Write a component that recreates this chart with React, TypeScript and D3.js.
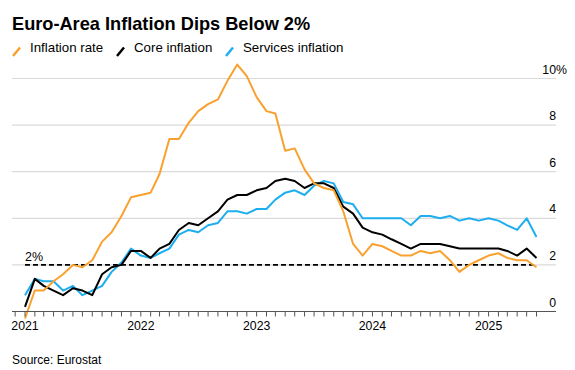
import React from "react";
import * as d3 from "d3";

// monthly readings, Dec 2020 .. May 2025 (plotted at month end)
const months: string[] = [
  "2020-12",
  "2021-01", "2021-02", "2021-03", "2021-04", "2021-05", "2021-06",
  "2021-07", "2021-08", "2021-09", "2021-10", "2021-11", "2021-12",
  "2022-01", "2022-02", "2022-03", "2022-04", "2022-05", "2022-06",
  "2022-07", "2022-08", "2022-09", "2022-10", "2022-11", "2022-12",
  "2023-01", "2023-02", "2023-03", "2023-04", "2023-05", "2023-06",
  "2023-07", "2023-08", "2023-09", "2023-10", "2023-11", "2023-12",
  "2024-01", "2024-02", "2024-03", "2024-04", "2024-05", "2024-06",
  "2024-07", "2024-08", "2024-09", "2024-10", "2024-11", "2024-12",
  "2025-01", "2025-02", "2025-03", "2025-04", "2025-05",
];

const inflationRate: number[] = [
  -0.3,
  0.9, 0.9, 1.3, 1.6, 2.0, 1.9, 2.2, 3.0, 3.4, 4.1, 4.9, 5.0,
  5.1, 5.9, 7.4, 7.4, 8.1, 8.6, 8.9, 9.1, 9.9, 10.6, 10.1, 9.2,
  8.6, 8.5, 6.9, 7.0, 6.1, 5.5, 5.3, 5.2, 4.3, 2.9, 2.4, 2.9,
  2.8, 2.6, 2.4, 2.4, 2.6, 2.5, 2.6, 2.2, 1.7, 2.0, 2.2, 2.4,
  2.5, 2.3, 2.2, 2.2, 1.9,
];

const coreInflation: number[] = [
  0.2,
  1.4, 1.1, 0.9, 0.7, 1.0, 0.9, 0.7, 1.6, 1.9, 2.0, 2.6, 2.6,
  2.3, 2.7, 2.9, 3.5, 3.8, 3.7, 4.0, 4.3, 4.8, 5.0, 5.0, 5.2,
  5.3, 5.6, 5.7, 5.6, 5.3, 5.5, 5.5, 5.3, 4.5, 4.2, 3.6, 3.4,
  3.3, 3.1, 2.9, 2.7, 2.9, 2.9, 2.9, 2.8, 2.7, 2.7, 2.7, 2.7,
  2.7, 2.6, 2.4, 2.7, 2.3,
];

const servicesInflation: number[] = [
  0.7,
  1.4, 1.3, 1.3, 0.9, 1.1, 0.7, 0.9, 1.1, 1.7, 2.1, 2.7, 2.4,
  2.3, 2.5, 2.7, 3.3, 3.5, 3.4, 3.7, 3.8, 4.3, 4.3, 4.2, 4.4,
  4.4, 4.8, 5.1, 5.2, 5.0, 5.4, 5.6, 5.5, 4.7, 4.6, 4.0, 4.0,
  4.0, 4.0, 4.0, 3.7, 4.1, 4.1, 4.0, 4.1, 3.9, 4.0, 3.9, 4.0,
  3.9, 3.7, 3.5, 4.0, 3.2,
];

const yTicks: number[] = [0, 2, 4, 6, 8, 10];
const yearLabels: number[] = [2021, 2022, 2023, 2024, 2025];
const targetRate = 2;

const ORANGE = "#f9a12e";
const BLACK = "#000000";
const BLUE = "#1eaef0";
const FONT = "'Liberation Sans', Arial, Helvetica, sans-serif";

const series = [
  { name: "Services inflation", values: servicesInflation, color: BLUE },
  { name: "Core inflation", values: coreInflation, color: BLACK },
  { name: "Inflation rate", values: inflationRate, color: ORANGE },
];

const legend = [
  { name: "Inflation rate", color: ORANGE, x: 13 },
  { name: "Core inflation", color: BLACK, x: 117 },
  { name: "Services inflation", color: BLUE, x: 226 },
];

const monthEnd = (m: string) => {
  const [y, mo] = m.split("-").map(Number);
  return new Date(y, mo, 1);
};

const App = () => {
  const width = 575;
  const height = 370;
  const left = 12;
  const right = 556;

  const dates = months.map(monthEnd);
  const x = d3
    .scaleTime()
    .domain([new Date(2021, 0, 1), new Date(2025, 5, 1)])
    .range([25, 536.5]);
  const y = d3.scaleLinear().domain([0, 10]).range([311.5, 78.5]);

  const line = d3
    .line<number>()
    .x((_, i) => x(dates[i]))
    .y((d) => y(d));

  const tickMonths = d3.timeMonth.range(new Date(2020, 11, 1), new Date(2025, 5, 2));

  return (
    <svg
      width={width}
      height={height}
      style={{ position: "absolute", left: 0, top: 0, background: "#fff" }}
      fontFamily={FONT}
    >
      <text x={12} y={30} fontSize={18.2} fontWeight="bold" fill="#000">
        Euro-Area Inflation Dips Below 2%
      </text>

      {legend.map((l) => (
        <g key={l.name}>
          <line
            x1={l.x}
            y1={56}
            x2={l.x + 7}
            y2={47.5}
            stroke={l.color}
            strokeWidth={2.5}
          />
          <text x={l.x + 17} y={52} fontSize={13.3} fill="#000">
            {l.name}
          </text>
        </g>
      ))}

      {yTicks
        .filter((t) => t !== 0)
        .map((t) => (
          <line
            key={"g" + t}
            x1={left}
            x2={right}
            y1={y(t)}
            y2={y(t)}
            stroke="#dadada"
            strokeWidth={1.2}
          />
        ))}

      {yTicks.map((t) => (
        <g key={"l" + t}>
          <text x={right} y={y(t) - 5} fontSize={12.3} textAnchor="end" fill="#000">
            {t}
          </text>
          {t === 10 && (
            <text x={right} y={y(t) - 5} fontSize={12.3} fill="#000">
              %
            </text>
          )}
        </g>
      ))}

      <line
        x1={x(dates[0])}
        x2={x(dates[dates.length - 1])}
        y1={y(targetRate)}
        y2={y(targetRate)}
        stroke="#000"
        strokeWidth={1.6}
        strokeDasharray="5,3"
      />
      <text x={25} y={y(targetRate) - 4} fontSize={12.5} fill="#000">
        2%
      </text>

      {series.map((s) => (
        <path
          key={s.name}
          d={line(s.values) || ""}
          fill="none"
          stroke={s.color}
          strokeWidth={2}
          strokeLinejoin="round"
        />
      ))}

      <line x1={left} x2={right} y1={y(0)} y2={y(0)} stroke="#555" strokeWidth={1.2} />
      {tickMonths.map((m) => (
        <line
          key={m.toISOString()}
          x1={x(m)}
          x2={x(m)}
          y1={y(0)}
          y2={y(0) + 5}
          stroke="#555"
          strokeWidth={1}
        />
      ))}
      {yearLabels.map((yr) => (
        <text
          key={yr}
          x={x(new Date(yr, 0, 1))}
          y={330}
          fontSize={12.3}
          textAnchor="middle"
          fill="#000"
        >
          {yr}
        </text>
      ))}

      <text x={12} y={364} fontSize={12} fill="#000">
        Source: Eurostat
      </text>
    </svg>
  );
};

export default App;
